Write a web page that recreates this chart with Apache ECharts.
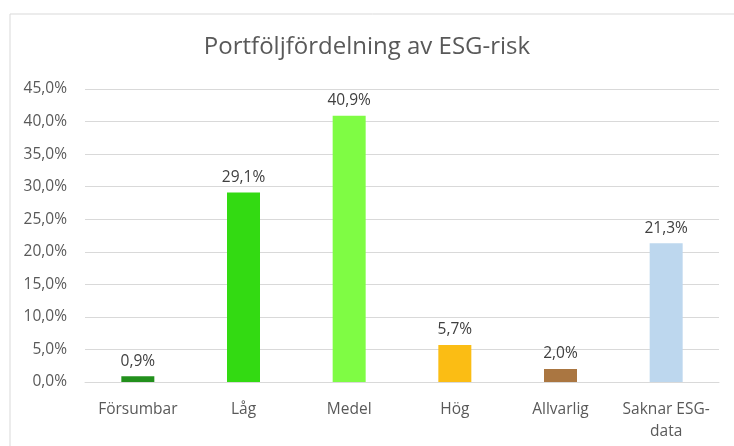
<!DOCTYPE html>
<html>
<head>
<meta charset="utf-8">
<script src="https://cdn.jsdelivr.net/npm/echarts@6/dist/echarts.min.js"></script>
<style>
  html, body { margin: 0; padding: 0; background: #fff; }
  #chart { width: 734px; height: 446px; }
</style>
</head>
<body>
<div id="chart"></div>
<script>
const categories = ['Försumbar', 'Låg', 'Medel', 'Hög', 'Allvarlig', 'Saknar ESG-\ndata']
const values = [0.9, 29.1, 40.9, 5.7, 2.0, 21.3]
const barColors = ['#22901c', '#33da12', '#7ffc44', '#fbbd14', '#aa7641', '#bdd7ee']

const fmt = (v) => v.toFixed(1).replace('.', ',') + '%'

const chart = echarts.init(document.getElementById('chart'))

const option = {
	animation: false,
	backgroundColor: '#fff',
	textStyle: { fontFamily: 'Open Sans' },
	title: {
		text: 'Portföljfördelning av ESG-risk',
		left: 'center',
		top: 30,
		textStyle: { color: '#595959', fontSize: 24, fontWeight: 'normal', fontFamily: 'Open Sans' },
	},
	graphic: [
		{
			type: 'rect',
			shape: { x: 10, y: 14, width: 740, height: 450 },
			style: { fill: 'none', stroke: '#d9d9d9', lineWidth: 1 },
			silent: true,
		},
	],
	grid: { left: 85, right: 15, top: 89, bottom: 64 },
	xAxis: {
		type: 'category',
		data: categories,
		axisTick: { show: false },
		axisLine: { lineStyle: { color: '#d9d9d9', width: 1 } },
		axisLabel: {
			color: '#595959',
			fontSize: 15.5,
			margin: 17,
			lineHeight: 22,
			interval: 0,
			hideOverlap: false,
			fontFamily: 'Open Sans',
		},
	},
	yAxis: {
		type: 'value',
		min: 0,
		max: 45,
		interval: 5,
		axisLine: { show: false },
		axisTick: { show: false },
		splitLine: { lineStyle: { color: '#d9d9d9', width: 1 } },
		axisLabel: { color: '#595959', fontSize: 15.5, margin: 18, formatter: fmt, fontFamily: 'Open Sans' },
	},
	series: [
		{
			type: 'bar',
			barWidth: 33,
			data: values.map((v, i) => ({ value: v, itemStyle: { color: barColors[i] } })),
			label: {
				show: true,
				position: 'top',
				distance: 7,
				color: '#404040',
				fontSize: 15.5,
				fontFamily: 'Open Sans',
				formatter: (p) => fmt(p.value),
			},
		},
	],
}

chart.setOption(option)
</script>
</body>
</html>
